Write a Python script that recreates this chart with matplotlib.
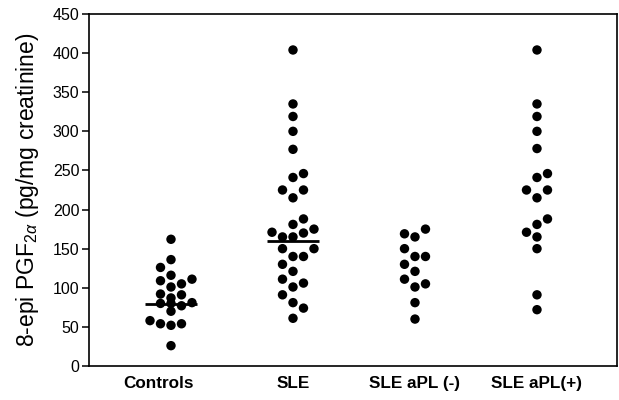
import matplotlib
matplotlib.use("Agg")
import matplotlib.pyplot as plt
import numpy as np

plt.rcParams.update({
    "font.family": ["Liberation Sans", "DejaVu Sans"],
    "mathtext.fontset": "custom",
    "mathtext.rm": "Liberation Sans",
    "mathtext.it": "Liberation Sans:italic",
    "axes.linewidth": 1.2,
})

groups = ["Controls", "SLE", "SLE aPL (-)", "SLE aPL(+)"]

controls = [162, 136, 126, 116, 109, 105, 111, 101, 92, 87, 91,
            80, 80, 77, 81, 70, 58, 54, 52, 54, 26]
sle = [404, 335, 319, 300, 277, 241, 246, 225, 225, 215, 188, 181,
       171, 165, 165, 170, 175, 150, 150, 140, 140, 130, 121, 111,
       106, 101, 91, 81, 74, 61]
apl_neg = [175, 169, 165, 150, 140, 140, 130, 121, 111, 101, 105, 81, 60]
apl_pos = [404, 335, 319, 300, 278, 241, 246, 225, 225, 215, 188, 181,
           171, 165, 150, 91, 72]

# horizontal line (central value) drawn for the first two groups only
centre_lines = {0: 79, 1: 160}

# column slot of each dot (beeswarm layout), same order as values
slots = [
    [0, 0, -1, 0, -1, 1, 2, 0, -1, 0, 1, -1, 0, 1, 2, 0, -2, -1, 0, 1, 0],
    [0, 0, 0, 0, 0, 0, 1, -1, 1, 0, 1, 0, -2, -1, 0, 1, 2, -1, 2, 0, 1,
     -1, 0, -1, 1, 0, -1, 0, 1, 0],
    [1, -1, 0, -1, 0, 1, -1, 0, -1, 0, 1, 0, 0],
    [0, 0, 0, 0, 0, 0, 1, -1, 1, 0, 1, 0, -1, 0, 0, 0, 0],
]
data = [controls, sle, apl_neg, apl_pos]
step = 0.086
label_pos = [0.9, 2.0, 3.0, 4.0]

fig = plt.figure(figsize=(6.19, 4.0), dpi=100)
ax = fig.add_axes([0.1438, 0.085, 0.853, 0.88])

for i, (vals, sl) in enumerate(zip(data, slots)):
    x = (i + 1) + np.array(sl) * step
    ax.scatter(x, vals, s=46, color="black", edgecolors="none", zorder=3)
    if i in centre_lines:
        ax.hlines(centre_lines[i], i + 1 - 0.215, i + 1 + 0.215,
                  color="black", linewidth=2, zorder=4)

ax.set_xlim(0.328, 4.656)
ax.set_ylim(0, 450)
ax.set_yticks(np.arange(0, 451, 50))
ax.set_xticks(label_pos)
ax.set_xticklabels(groups, fontweight="bold", fontsize=12.3)
ax.tick_params(axis="x", length=0, pad=7)
ax.tick_params(axis="y", length=5, width=1.1, labelsize=11.5, pad=2)
ax.set_ylabel(r"8-epi PGF$_{2\alpha}$ (pg/mg creatinine)", fontsize=16.5, labelpad=8)

fig.savefig("out.png", dpi=100)
